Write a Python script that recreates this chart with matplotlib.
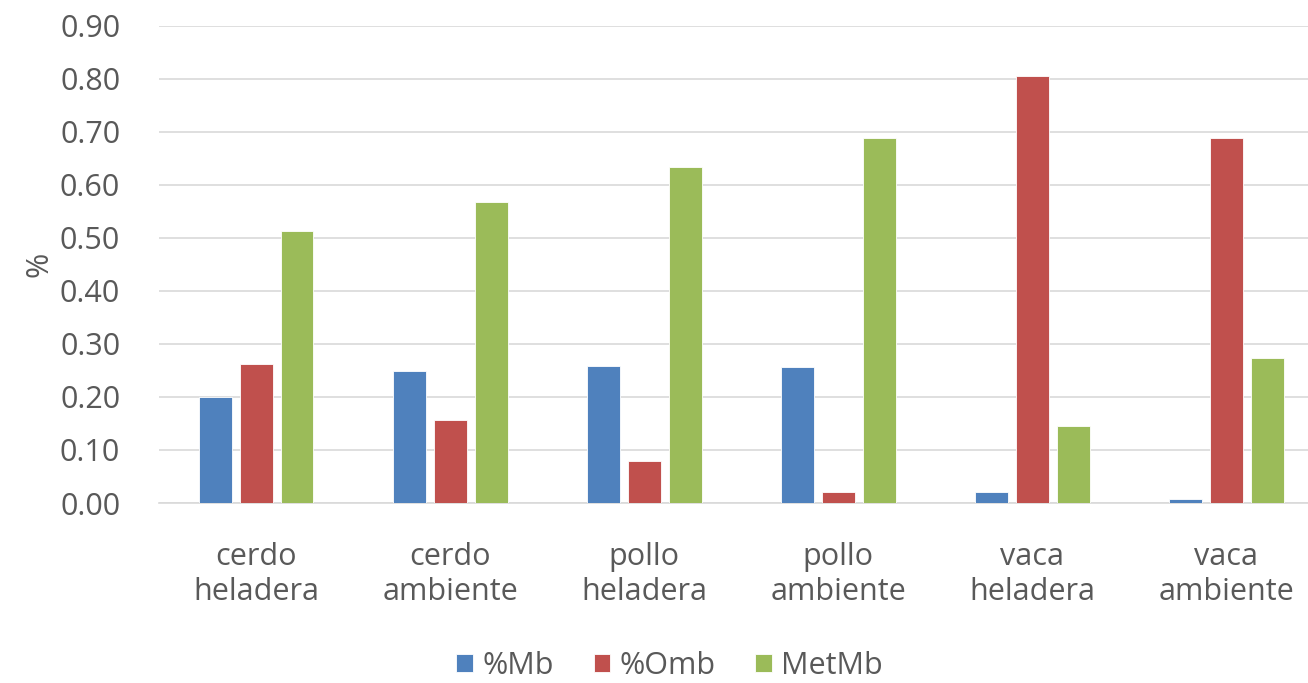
import matplotlib.pyplot as plt
import numpy as np

categories = ['cerdo\nheladera', 'cerdo\nambiente', 'pollo\nheladera',
              'pollo\nambiente', 'vaca\nheladera', 'vaca\nambiente']
mb = [0.199, 0.249, 0.259, 0.257, 0.021, 0.007]
omb = [0.262, 0.156, 0.080, 0.021, 0.805, 0.688]
metmb = [0.512, 0.568, 0.633, 0.688, 0.146, 0.274]
series = [('%Mb', mb, '#4f81bd'), ('%Omb', omb, '#c0504d'), ('MetMb', metmb, '#9bbb59')]

plt.rcParams['font.family'] = ['Open Sans', 'DejaVu Sans']
txt = '#595959'

fig = plt.figure(figsize=(13.08, 6.83), dpi=100)
ax = fig.add_axes([0.1216, 0.2635, 0.890, 0.699])

x = np.arange(len(categories))
w = 0.17
step = 0.211
for i, (name, vals, col) in enumerate(series):
    ax.bar(x + (i - 1) * step, vals, w, color=col, label=name,
           edgecolor='white', linewidth=0.6, zorder=3)

ax.set_xlim(-0.5, len(categories) - 0.5)
ax.set_ylim(0, 0.9)
ax.set_yticks(np.arange(0, 0.91, 0.1))
ax.set_yticklabels([f'{v:.2f}' for v in np.arange(0, 0.91, 0.1)])
ax.yaxis.grid(True, color='#d9d9d9', linewidth=1.2, zorder=0)
ax.set_xticks(x)
ax.set_xticklabels(categories, linespacing=1.2)
ax.tick_params(axis='both', length=0, labelsize=22, colors=txt)
ax.tick_params(axis='x', pad=28)
ax.tick_params(axis='y', pad=28)
for s in ['top', 'right', 'left']:
    ax.spines[s].set_visible(False)
ax.spines['bottom'].set_color('#d9d9d9')
ax.spines['bottom'].set_linewidth(1.2)
ax.set_ylabel('%', fontsize=22, color=txt, labelpad=4)

fig.legend(loc='lower center', bbox_to_anchor=(0.512, -0.028), ncol=3,
           frameon=False, fontsize=22, labelcolor=txt, handlelength=0.55,
           handleheight=0.55, handletextpad=0.3, columnspacing=1.3,
           borderaxespad=0.3)

plt.savefig('out.png', dpi=100)
